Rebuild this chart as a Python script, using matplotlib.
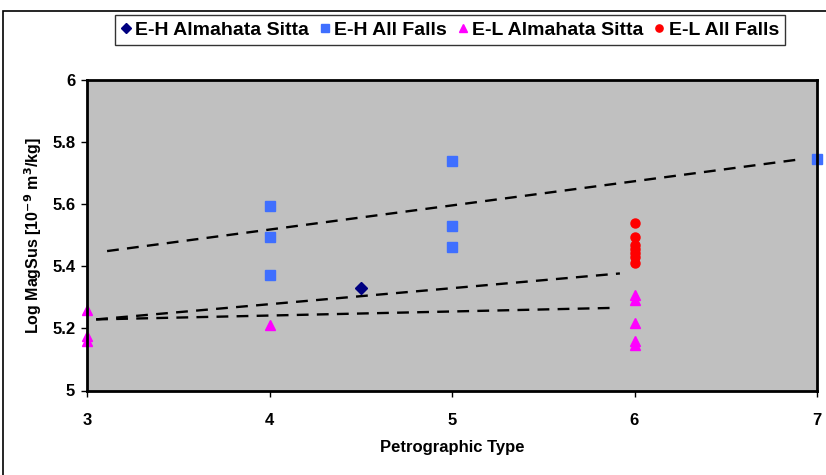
import numpy as np
import matplotlib
matplotlib.use('Agg')
import matplotlib.pyplot as plt
from matplotlib.patches import Rectangle

plt.rcParams['font.family'] = ['Liberation Sans', 'DejaVu Sans']
plt.rcParams['font.weight'] = 'bold'
plt.rcParams['mathtext.default'] = 'bf'

# E-H Almahata Sitta
eh_as_x = [4.5]
eh_as_y = [5.33]
# E-H All Falls
eh_all_x = [4, 4, 4, 5, 5, 5, 7]
eh_all_y = [5.595, 5.493, 5.371, 5.738, 5.529, 5.463, 5.747]
# E-L Almahata Sitta
el_as_x = [3, 3, 3, 4, 6, 6, 6, 6, 6]
el_as_y = [5.258, 5.176, 5.159, 5.21, 5.307, 5.293, 5.216, 5.158, 5.148]
# E-L All Falls
el_all_x = [6, 6, 6, 6, 6, 6, 6]
el_all_y = [5.54, 5.494, 5.468, 5.455, 5.443, 5.43, 5.41]

# trend lines (end points)
trend1_x = [3.11, 6.9]
trend1_y = [5.449, 5.744]
trend2_x = [3.05, 5.92]
trend2_y = [5.229, 5.377]
trend3_x = [3.05, 5.88]
trend3_y = [5.229, 5.266]

fig = plt.figure(figsize=(8.26, 4.75), dpi=100)
fig.patches.append(Rectangle((3 / 826, -0.1), 1.2, (475 - 11) / 475 + 0.1,
                             transform=fig.transFigure, fill=False,
                             edgecolor='black', linewidth=1.2))
ax = fig.add_axes([87 / 826, 1 - 390.5 / 475, (817 - 87) / 826, (390.5 - 80) / 475])
ax.set_facecolor('#C0C0C0')

dash = (0, (5, 3.5))
for tx, ty in [(trend1_x, trend1_y), (trend2_x, trend2_y), (trend3_x, trend3_y)]:
    ax.plot(tx, ty, color='black', linewidth=1.7, linestyle=dash, zorder=2)

ax.plot(eh_as_x, eh_as_y, 'D', color='#000080', markersize=6, linestyle='none',
        label='E-H Almahata Sitta', clip_on=False, zorder=3)
ax.plot(eh_all_x, eh_all_y, 's', color='#3F6FFF', markersize=6.5, linestyle='none',
        label='E-H All Falls', clip_on=False, zorder=3)
ax.plot(el_as_x, el_as_y, '^', color='#FF00FF', markersize=7.5, linestyle='none',
        label='E-L Almahata Sitta', clip_on=False, zorder=3)
ax.plot(el_all_x, el_all_y, 'o', color='#FF0000', markersize=6.5, linestyle='none',
        label='E-L All Falls', clip_on=False, zorder=3)

ax.set_xlim(3, 7)
ax.set_ylim(5, 6)
ax.set_xticks([3, 4, 5, 6, 7])
ax.set_yticks([5, 5.2, 5.4, 5.6, 5.8, 6])
ax.set_yticklabels(['5', '5.2', '5.4', '5.6', '5.8', '6'])
ax.tick_params(direction='out', length=4, width=1, labelsize=12)
ax.tick_params(axis='x', pad=12)
ax.tick_params(axis='y', pad=4.5)
for s in ax.spines.values():
    s.set_linewidth(2)
    s.set_zorder(4)

ax.set_xlabel('Petrographic Type', fontsize=12, fontweight='bold', labelpad=9)
ax.set_ylabel('Log MagSus [10$^{-9}$ m$^{3}$/kg]', fontsize=11.5, fontweight='bold', labelpad=6)

leg = fig.legend(loc='center', bbox_to_anchor=(450 / 826, 1 - 30 / 475), ncol=4,
                 fontsize=14, frameon=True, fancybox=False, edgecolor='black',
                 handlelength=0.5, handletextpad=0.25, columnspacing=0.55,
                 borderpad=0.3, markerscale=0.8)
leg.get_frame().set_linewidth(1)
for t in leg.get_texts():
    t.set_fontweight('bold')

fig.savefig('out.png', dpi=100)
